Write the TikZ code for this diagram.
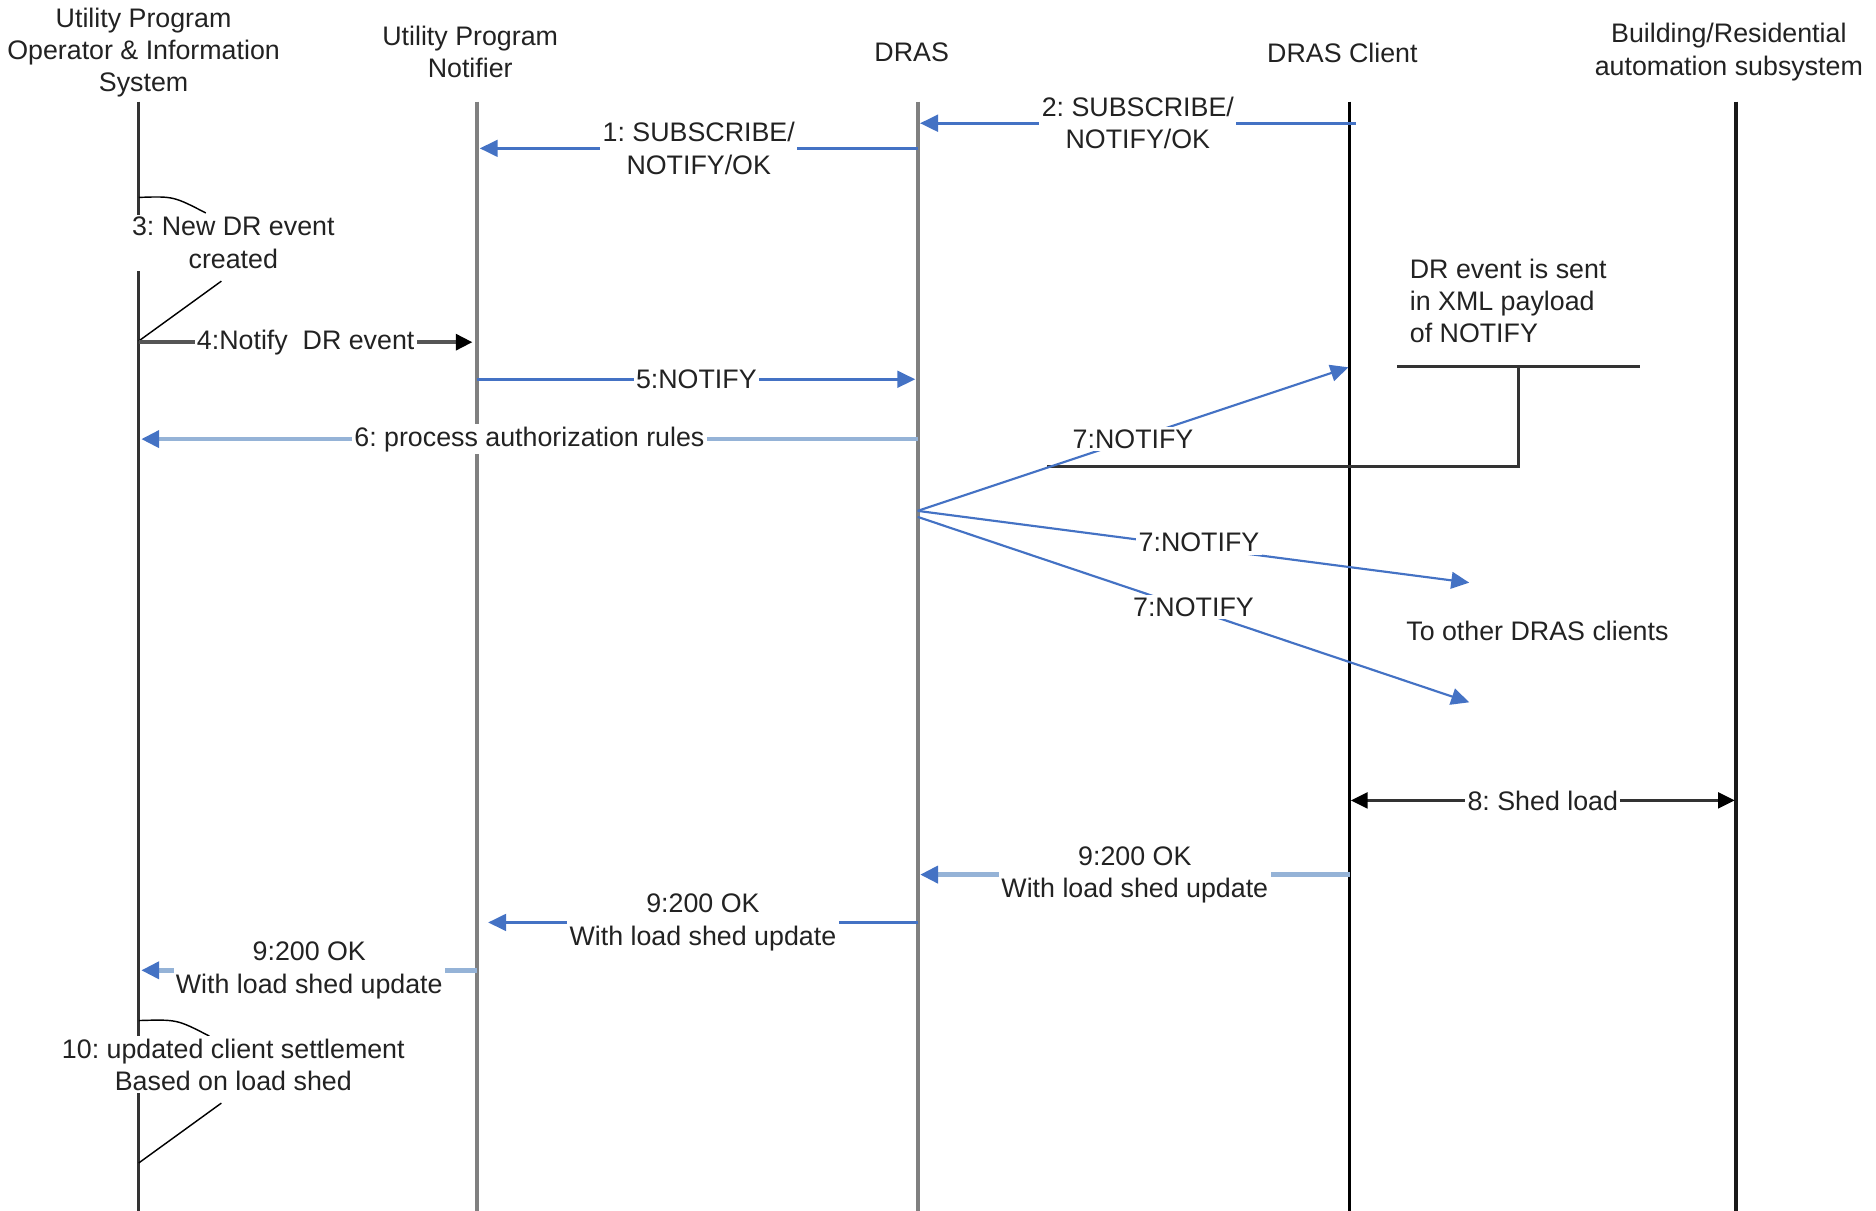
\documentclass[tikz,border=0pt]{standalone}
\usepackage{fontspec}
\setmainfont{Liberation Sans}
\usetikzlibrary{arrows.meta}
\definecolor{msgblue}{HTML}{4472C4}
\definecolor{lightblue}{HTML}{95B3D7}
\definecolor{lifegray}{HTML}{808080}
\definecolor{txt}{HTML}{222222}
\definecolor{darkline}{HTML}{333333}
\definecolor{midline}{HTML}{555555}
\frenchspacing
\begin{document}
\begin{tikzpicture}[x=0.5pt,y=-0.5pt,
  font=\fontsize{11.2}{13.5}\selectfont\frenchspacing, text=txt,
  hdr/.style={align=center, inner sep=0pt},
  lbl/.style={fill=white, align=center, inner sep=1pt},
  lifeD/.style={line width=1.1pt, draw=darkline},
  lifeB/.style={line width=1pt, draw=black},
  lifeK/.style={line width=1.5pt, draw=black!90},
  lifeG/.style={line width=1.6pt, draw=lifegray},
  tipB/.style={-{Triangle[length=7.5pt,width=7pt,color=msgblue]}},
  bmsg/.style={line width=1.1pt, draw=msgblue, tipB},
  thinmsg/.style={line width=0.9pt, draw=msgblue, tipB},
  lbmsg/.style={line width=2pt, draw=lightblue, tipB},
  kmsg/.style={line width=1.8pt, draw=midline, -{Triangle[length=7pt,width=6.5pt,color=black]}},
  dmsg/.style={line width=1.4pt, draw=darkline, {Triangle[length=7pt,width=6.5pt,color=black]}-{Triangle[length=7pt,width=6.5pt,color=black]}},
  selfm/.style={line width=0.6pt, draw=black},
  notel/.style={line width=1.2pt, draw=darkline}
]
\useasboundingbox (0,0) rectangle (1568,1012);

% headers
\node[hdr] (hOp) at (120,44) {Utility Program\\Operator \& Information\\System};
\node[hdr] (hNot) at (393,43.5) {Utility Program\\Notifier};
\node[hdr] (hDras) at (762,44) {DRAS};
\node[hdr] (hCli) at (1122,44) {DRAS Client};
\node[hdr] (hBld) at (1445,43.5) {Building/Residential\\automation subsystem};

% lifeline ends
\coordinate (opT) at (116,85);   \coordinate (opB) at (116,1012);
\coordinate (noT) at (399,85);   \coordinate (noB) at (399,1012);
\coordinate (drT) at (767,85);   \coordinate (drB) at (767,1012);
\coordinate (clT) at (1128,85);  \coordinate (clB) at (1128,1012);
\coordinate (buT) at (1451,85);  \coordinate (buB) at (1451,1012);

\draw[lifeD] (opT) -- (opB);
\draw[lifeG] (noT) -- (noB);
\draw[lifeG] (drT) -- (drB);
\draw[lifeB] (clT) -- (clB);
\draw[lifeK] (buT) -- (buB);

% message end points
\coordinate (m1s) at (767,124);  \coordinate (m1e) at (401,124);
\coordinate (m2s) at (1133,103); \coordinate (m2e) at (769,103);
\coordinate (m4s) at (116,286);  \coordinate (m4e) at (395,286);
\coordinate (m5s) at (399,317);  \coordinate (m5e) at (765,317);
\coordinate (m6s) at (767,367);  \coordinate (m6e) at (118,367);
\coordinate (m7s) at (767,427);  \coordinate (m7a) at (1127,307);
\coordinate (m7b) at (1228,487);
\coordinate (m7t) at (767,432);  \coordinate (m7c) at (1228,587);
\coordinate (m8s) at (1129,669); \coordinate (m8e) at (1450,669);
\coordinate (m9as) at (1128,731); \coordinate (m9ae) at (769,731);
\coordinate (m9bs) at (767,771); \coordinate (m9be) at (408,771);
\coordinate (m9cs) at (399,811); \coordinate (m9ce) at (118,811);

% self messages 3 and 10
\coordinate (s3a) at (116,165); \coordinate (s3b) at (172,178);
\coordinate (s3c) at (185,235); \coordinate (s3d) at (116,285);
\coordinate (s10a) at (116,853); \coordinate (s10b) at (175,866);
\coordinate (s10c) at (185,922); \coordinate (s10d) at (116,972);
\draw[selfm] (s3a) .. controls (145,164) .. (s3b);
\draw[selfm] (s3c) -- (s3d);
\draw[selfm] (s10a) .. controls (148,852) .. (s10b);
\draw[selfm] (s10c) -- (s10d);
\node[lbl] (l3) at (195,203) {3: New DR event\\created};
\node[lbl] (l10) at (195,890) {10: updated client settlement\\Based on load shed};

% note bracket
\coordinate (nL) at (1168,306); \coordinate (nR) at (1371,306);
\coordinate (nM) at (1269,306); \coordinate (nC) at (1269,390);
\coordinate (nE) at (875,390);
\draw[notel] (nL) -- (nR);
\draw[notel] (nM) -- (nC) -- (nE);
\node[anchor=north west, align=left, inner sep=0pt] (note) at (1178,216) {DR event is sent\\in XML payload\\of NOTIFY};
\node[inner sep=0pt] (other) at (1285,527) {To other DRAS clients};

% messages
\draw[bmsg] (m1s) -- node[lbl] (l1) {1: SUBSCRIBE/\\NOTIFY/OK} (m1e);
\draw[bmsg] (m2s) -- node[lbl] (l2) {2: SUBSCRIBE/\\NOTIFY/OK} (m2e);
\draw[kmsg] (m4s) -- node[lbl] (l4) {4:Notify\ \ DR event} (m4e);
\draw[bmsg] (m5s) -- node[lbl] (l5) {5:NOTIFY} (m5e);
\draw[lbmsg] (m6s) -- node[lbl] (l6) {6: process authorization rules} (m6e);
\draw[thinmsg] (m7s) -- node[lbl] (l7a) {7:NOTIFY} (m7a);
\draw[thinmsg] (m7s) -- node[lbl, pos=0.51, yshift=2pt] (l7b) {7:NOTIFY} (m7b);
\draw[thinmsg] (m7t) -- node[lbl, yshift=1pt] (l7c) {7:NOTIFY} (m7c);
\draw[dmsg] (m8s) -- node[lbl] (l8) {8: Shed load} (m8e);
\draw[lbmsg] (m9as) -- node[lbl] (l9a) {9:200 OK\\With load shed update} (m9ae);
\draw[bmsg] (m9bs) -- node[lbl] (l9b) {9:200 OK\\With load shed update} (m9be);
\draw[lbmsg] (m9cs) -- node[lbl] (l9c) {9:200 OK\\With load shed update} (m9ce);
\end{tikzpicture}
\end{document}
